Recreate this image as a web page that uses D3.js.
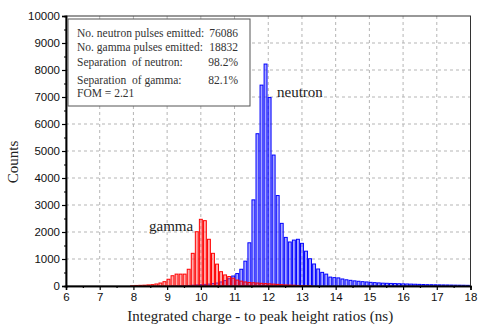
<!DOCTYPE html>
<html>
<head>
<meta charset="utf-8">
<script src="https://cdn.jsdelivr.net/npm/d3@7"></script>
<style>
  body { margin: 0; background: #fff; }
  svg { display: block; }
</style>
</head>
<body>
<div class="canvas"></div>
<script>
// histogram bins (0.12 ns wide), first bin centred at 7.96
const binStart = 7.96;
const binWidth = 0.12;

const gammaCounts = [
  10, 20, 25, 30, 40, 50, 75, 110, 160, 250,
  380, 440, 440, 440, 620, 1210, 2010, 2470, 2420, 1730,
  1210, 810, 530, 410, 350, 290, 220, 180, 150, 130,
  120, 110, 100, 90, 80, 70, 60, 50, 40, 35,
  30, 20, 15, 10, 5, 0, 0, 0, 0, 0,
  0, 0, 0, 0, 0, 0, 0, 0, 0, 0,
  0, 0, 0, 0, 0, 0, 0, 0, 0, 0,
  0, 0, 0, 0, 0, 0, 0, 0, 0, 0,
  0, 0, 0, 0
];

const neutronCounts = [
  0, 0, 0, 0, 0, 0, 0, 0, 0, 0,
  5, 8, 10, 15, 20, 30, 40, 50, 60, 70,
  90, 110, 150, 200, 270, 370, 460, 620, 920, 1600,
  3190, 5640, 7440, 8220, 6980, 4850, 3350, 2320, 1800, 1630,
  1700, 1730, 1580, 1290, 1010, 815, 630, 505, 440, 330,
  310, 300, 260, 230, 210, 190, 175, 160, 150, 135,
  125, 115, 105, 100, 95, 90, 85, 80, 75, 70,
  65, 60, 55, 50, 48, 45, 42, 40, 38, 35,
  32, 30, 28, 25
];

const xTicks = [6, 7, 8, 9, 10, 11, 12, 13, 14, 15, 16, 17, 18];
const yTicks = [0, 1000, 2000, 3000, 4000, 5000, 6000, 7000, 8000, 9000, 10000];

const infoLabels = [
  'No. neutron pulses emitted:',
  'No. gamma pulses emitted:',
  'Separation  of neutron:',
  'Separation  of gamma:',
  'FOM = 2.21'
];
const infoValues = ['76086', '18832', '98.2%', '82.1%', ''];

const dims = { width: 478, height: 325 };
const plot = { left: 66, top: 16, right: 470.5, bottom: 286 };

const svg = d3.select('.canvas')
  .append('svg')
  .attr('width', dims.width)
  .attr('height', dims.height);

const x = d3.scaleLinear().domain([6, 18]).range([plot.left, plot.right]);
const y = d3.scaleLinear().domain([0, 10000]).range([plot.bottom, plot.top]);

// dashed grid
const grid = svg.append('g');
grid.selectAll('line.vg')
  .data(xTicks.slice(1, -1))
  .enter().append('line')
    .attr('x1', d => x(d)).attr('x2', d => x(d))
    .attr('y1', plot.top).attr('y2', plot.bottom)
    .attr('stroke', '#b5b5b5').attr('stroke-dasharray', '3,3');
grid.selectAll('line.hg')
  .data(yTicks.slice(1, -1))
  .enter().append('line')
    .attr('x1', plot.left).attr('x2', plot.right)
    .attr('y1', d => y(d)).attr('y2', d => y(d))
    .attr('stroke', '#b5b5b5').attr('stroke-dasharray', '3,3');

// bars
const barW = x(6 + binWidth * 0.72) - x(6);
const drawSeries = (counts, stroke, fill) => {
  svg.append('g')
    .selectAll('rect')
    .data(counts.map((c, i) => ({ c: binStart + i * binWidth, v: c })).filter(d => d.v > 0))
    .enter().append('rect')
      .attr('x', d => x(d.c) - barW / 2)
      .attr('width', barW)
      .attr('y', d => y(d.v))
      .attr('height', d => y(0) - y(d.v))
      .attr('fill', fill)
      .attr('stroke', stroke)
      .attr('stroke-width', 1);
};
drawSeries(neutronCounts, '#0000ff', 'rgba(60,60,255,0.45)');
drawSeries(gammaCounts, '#ff0000', 'rgba(255,70,70,0.45)');

// frame
svg.append('rect')
  .attr('x', plot.left).attr('y', plot.top)
  .attr('width', plot.right - plot.left).attr('height', plot.bottom - plot.top)
  .attr('fill', 'none').attr('stroke', '#333').attr('stroke-width', 1);

// axes
const tickFont = 'Liberation Sans, Arial, sans-serif';
const xAxis = svg.append('g')
  .attr('transform', `translate(0, ${plot.bottom})`)
  .call(d3.axisBottom(x).tickValues(xTicks).tickSize(4).tickPadding(3).tickFormat(d3.format('d')));
const xMinor = svg.append('g')
  .attr('transform', `translate(0, ${plot.bottom})`)
  .call(d3.axisBottom(x).tickValues(xTicks.slice(0, -1).map(d => d + 0.5)).tickSize(2).tickFormat(''));
const yAxis = svg.append('g')
  .attr('transform', `translate(${plot.left}, 0)`)
  .call(d3.axisLeft(y).tickValues(yTicks).tickSize(4).tickPadding(2).tickFormat(d3.format('d')));
const yMinor = svg.append('g')
  .attr('transform', `translate(${plot.left}, 0)`)
  .call(d3.axisLeft(y).tickValues(yTicks.slice(0, -1).map(d => d + 500)).tickSize(2).tickFormat(''));

[xAxis, xMinor, yAxis, yMinor].forEach(a => {
  a.select('.domain').attr('stroke', '#000').attr('stroke-width', 1.5);
  a.selectAll('.tick line').attr('stroke', '#000').attr('stroke-width', 1.2);
});
[xAxis, yAxis].forEach(a => {
  a.selectAll('text')
    .attr('fill', '#111')
    .style('font-family', tickFont)
    .style('font-size', '11.5px');
});

// axis titles
const serif = '"Liberation Serif", "Times New Roman", serif';
svg.append('text')
  .attr('x', (plot.left + plot.right) / 2 - 8)
  .attr('y', 321)
  .attr('text-anchor', 'middle')
  .style('font-family', serif).style('font-size', '15px').attr('fill', '#222')
  .text('Integrated charge - to peak height ratios (ns)');
svg.append('text')
  .attr('transform', 'translate(18, 162) rotate(-90)')
  .attr('text-anchor', 'middle')
  .style('font-family', serif).style('font-size', '15px').attr('fill', '#222')
  .text('Counts');

// series annotations
svg.append('text')
  .attr('x', 277).attr('y', 97)
  .style('font-family', serif).style('font-size', '15px').attr('fill', '#222')
  .text('neutron');
svg.append('text')
  .attr('x', 149).attr('y', 231)
  .style('font-family', serif).style('font-size', '15px').attr('fill', '#222')
  .text('gamma');

// info box
const info = svg.append('g');
info.append('rect')
  .attr('x', 68).attr('y', 19)
  .attr('width', 182).attr('height', 87)
  .attr('fill', '#fff').attr('stroke', '#555').attr('stroke-width', 1);
const rowY = [37, 51, 66, 83.5, 97];
info.selectAll('text.lab')
  .data(infoLabels)
  .enter().append('text')
    .attr('x', 77).attr('y', (d, i) => rowY[i])
    .style('font-family', serif).style('font-size', '11.5px').style('white-space', 'pre')
    .attr('fill', '#333')
    .text(d => d);
info.selectAll('text.val')
  .data(infoValues)
  .enter().append('text')
    .attr('x', 238).attr('y', (d, i) => rowY[i])
    .attr('text-anchor', 'end')
    .style('font-family', serif).style('font-size', '11.5px')
    .attr('fill', '#333')
    .text(d => d);
</script>
</body>
</html>
